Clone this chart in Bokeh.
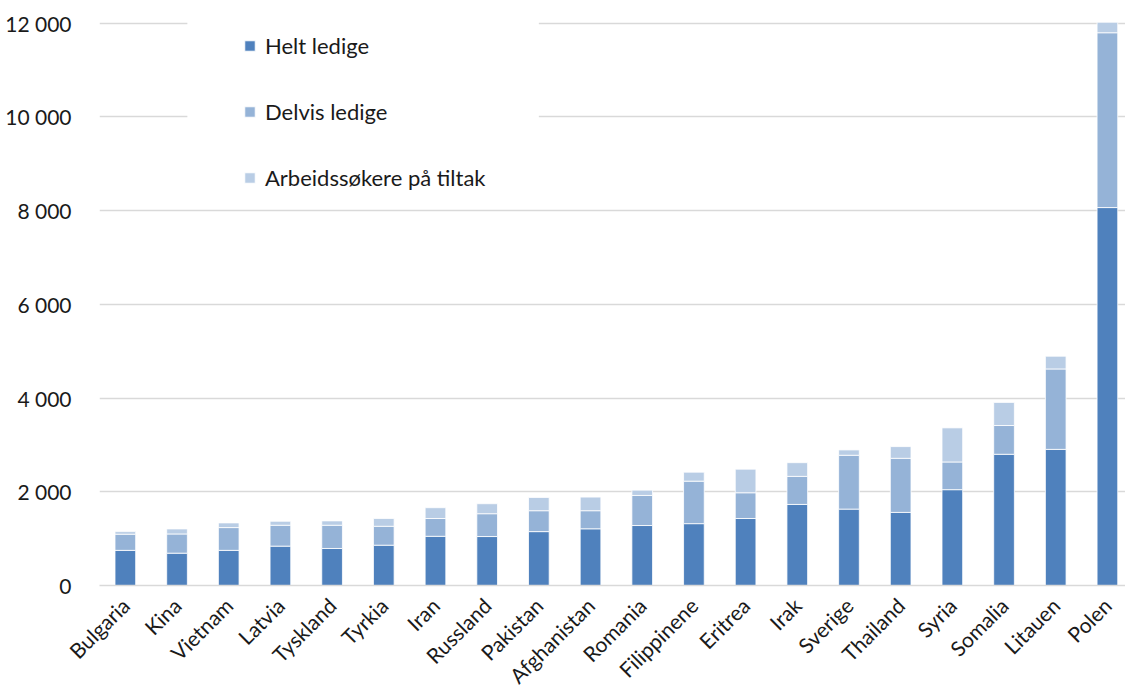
import math
from bokeh.plotting import figure
from bokeh.models import ColumnDataSource, FixedTicker, Range1d, BoxAnnotation
from bokeh.embed import file_html
from bokeh.resources import INLINE

countries = ["Bulgaria", "Kina", "Vietnam", "Latvia", "Tyskland", "Tyrkia", "Iran",
             "Russland", "Pakistan", "Afghanistan", "Romania", "Filippinene", "Eritrea",
             "Irak", "Sverige", "Thailand", "Syria", "Somalia", "Litauen", "Polen"]
helt = [750, 690, 750, 840, 790, 860, 1050, 1045, 1150, 1210, 1280, 1320, 1430,
        1730, 1630, 1560, 2045, 2800, 2905, 8065]
delvis = [345, 410, 486, 446, 496, 404, 380, 487, 446, 386, 642, 907, 549,
          599, 1149, 1154, 591, 614, 1716, 3731]
tiltak = [55, 107, 100, 85, 93, 165, 230, 213, 283, 291, 113, 191, 503,
          292, 114, 250, 728, 493, 272, 224]
series_names = ["Helt ledige", "Delvis ledige", "Arbeidssøkere på tiltak"]
colors = ["#4f81bd", "#95b3d7", "#b9cde5"]
y_ticks = [0, 2000, 4000, 6000, 8000, 10000, 12000]
y_tick_labels = ["0", "2 000", "4 000", "6 000", "8 000", "10 000", "12 000"]

FONT = "Lato"
x_idx = list(range(len(countries)))
source = ColumnDataSource(dict(x=x_idx, helt=helt, delvis=delvis, tiltak=tiltak))

p = figure(width=1125, height=699, output_backend="svg", toolbar_location=None,
           x_range=Range1d(-0.5, 19.35), y_range=Range1d(0, 12100),
           min_border_left=99, min_border_right=0, min_border_top=18,
           min_border_bottom=112)
p.outline_line_color = None
p.background_fill_color = "white"

# blank gridlines behind the legend area
p.add_layout(BoxAnnotation(left=1.2, right=8.0, bottom=8250, top=12100,
                           fill_color="white", fill_alpha=1.0, line_color=None,
                           level="glyph"))

p.vbar_stack(["helt", "delvis", "tiltak"], x="x", width=0.4, color=colors,
             line_color="white", line_width=0.8, source=source,
             legend_label=series_names)

p.xgrid.grid_line_color = None
p.ygrid.grid_line_color = "#d9d9d9"
p.ygrid.grid_line_width = 1.3
p.ygrid.ticker = FixedTicker(ticks=y_ticks)

p.yaxis.ticker = FixedTicker(ticks=y_ticks)
p.yaxis.major_label_overrides = {t: l for t, l in zip(y_ticks, y_tick_labels)}
p.yaxis.axis_line_color = None
p.yaxis.major_tick_line_color = None
p.yaxis.minor_tick_line_color = None
p.yaxis.major_label_standoff = 22
p.yaxis.major_label_text_font = FONT
p.yaxis.major_label_text_font_size = "21px"
p.yaxis.major_label_text_color = "#1a1a1a"

p.xaxis.ticker = FixedTicker(ticks=x_idx)
p.xaxis.major_label_overrides = {i: c for i, c in zip(x_idx, countries)}
p.xaxis.major_label_orientation = math.pi / 4
p.xaxis.axis_line_color = "#d9d9d9"
p.xaxis.axis_line_width = 1.3
p.xaxis.major_tick_line_color = None
p.xaxis.minor_tick_line_color = None
p.xaxis.major_label_standoff = 10
p.xaxis.major_label_text_font = FONT
p.xaxis.major_label_text_font_size = "21px"
p.xaxis.major_label_text_color = "#1a1a1a"

leg = p.legend[0]
leg.location = (144, 394)
leg.padding = 10
leg.spacing = 39
leg.glyph_width = 13
leg.glyph_height = 13
leg.label_standoff = 9
leg.label_text_font = FONT
leg.label_text_font_size = "22px"
leg.label_text_color = "#1a1a1a"
leg.border_line_color = None
leg.background_fill_color = "white"
leg.background_fill_alpha = 1.0

open("out.html", "w").write(file_html(p, INLINE))
